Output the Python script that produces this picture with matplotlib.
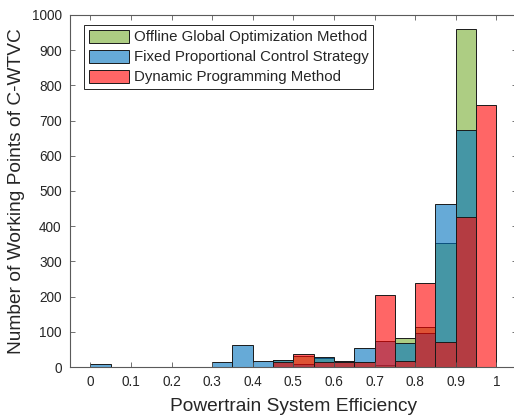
import numpy as np
import matplotlib
matplotlib.use("Agg")
import matplotlib.pyplot as plt
from matplotlib.colors import to_rgba

plt.rcParams['font.family'] = ['Liberation Sans', 'DejaVu Sans']

# histogram bins (left edges), width 0.05
bin_left = np.arange(0, 1.0, 0.05)
bin_width = 0.05

series_names = ["Offline Global Optimization Method",
                "Fixed Proportional Control Strategy",
                "Dynamic Programming Method"]

offline_counts = [0, 0, 0, 0, 0, 0, 0, 0, 0, 20, 30, 26, 18, 14, 5, 82, 113, 351, 960, 0]
fixed_counts = [8, 0, 0, 0, 0, 0, 13, 62, 16, 21, 8, 27, 16, 54, 75, 69, 96, 462, 673, 0]
dp_counts = [0, 0, 0, 0, 0, 0, 0, 0, 0, 15, 36, 13, 13, 15, 205, 18, 238, 72, 427, 743]

colors = ['#77AC30', '#0072BD', '#FF0000']

x_ticks = np.arange(0, 1.01, 0.1)
x_tick_labels = ['0', '0.1', '0.2', '0.3', '0.4', '0.5', '0.6', '0.7', '0.8', '0.9', '1']
y_ticks = np.arange(0, 1001, 100)

fig = plt.figure(figsize=(5.14, 4.15), dpi=100)
ax = fig.add_axes([70 / 514, 48 / 415, 446.6 / 514, 352 / 415])

for counts, col, name in zip([offline_counts, fixed_counts, dp_counts], colors, series_names):
    ax.bar(bin_left, counts, width=bin_width, align='edge',
           facecolor=to_rgba(col, 0.6), edgecolor='#1a1a1a', linewidth=0.7,
           label=name)

ax.set_xlim(-0.05, 1.05)
ax.set_ylim(0, 1000)
ax.set_xticks(x_ticks)
ax.set_xticklabels(x_tick_labels)
ax.set_yticks(y_ticks)

axis_gray = '#262626'
for s in ax.spines.values():
    s.set_color('#5a5a5a')
    s.set_linewidth(0.8)
ax.tick_params(direction='in', length=3.5, width=0.6, color='#5a5a5a',
               top=True, right=True, labelsize=9.8, labelcolor=axis_gray, pad=6)

ax.set_xlabel('Powertrain System Efficiency', fontsize=13.8, color=axis_gray, labelpad=6)
ax.set_ylabel('Number of Working Points of C-WTVC', fontsize=13.8, color=axis_gray, labelpad=5)

leg = ax.legend(loc='upper left', bbox_to_anchor=(0.031, 0.972), borderaxespad=0,
                fontsize=10.8, fancybox=False, framealpha=1, edgecolor='#262626',
                handlelength=2.7, handleheight=0.95, handletextpad=0.3,
                labelspacing=0.36, borderpad=0.32)
leg.get_frame().set_linewidth(0.7)
for t in leg.get_texts():
    t.set_color(axis_gray)

fig.savefig('out.png', dpi=100)
